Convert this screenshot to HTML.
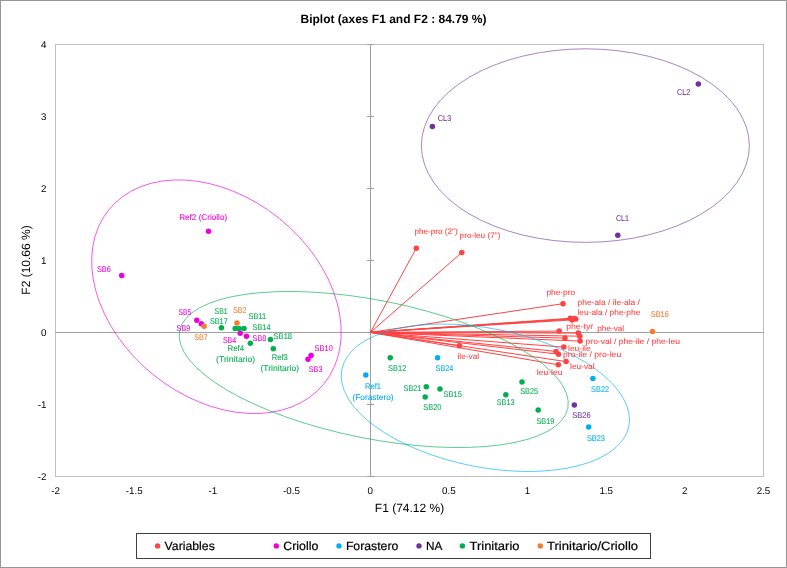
<!DOCTYPE html>
<html><head><meta charset="utf-8"><style>
html,body{margin:0;padding:0;background:#fff;}
svg{display:block;will-change:transform;}
text{font-family:"Liberation Sans",sans-serif;text-rendering:geometricPrecision;}
</style></head><body>
<svg width="787" height="568" viewBox="0 0 787 568">
<rect x="0.5" y="0.5" width="786" height="567" fill="#fff" stroke="#969696" stroke-width="1"/>

<text x="393.5" y="22.9" text-anchor="middle" font-size="12" font-weight="bold" fill="#000">Biplot (axes F1 and F2 : 84.79 %)</text>
<rect x="55.5" y="44.5" width="708" height="432" fill="none" stroke="#c0c0c0" stroke-width="1"/>
<line x1="55" y1="332.5" x2="764" y2="332.5" stroke="#a0a0a0" stroke-width="1"/>
<line x1="370.5" y1="44" x2="370.5" y2="477" stroke="#a0a0a0" stroke-width="1"/>
<line x1="367" y1="44.5" x2="374" y2="44.5" stroke="#a0a0a0" stroke-width="1"/>
<line x1="367" y1="116.5" x2="374" y2="116.5" stroke="#a0a0a0" stroke-width="1"/>
<line x1="367" y1="188.5" x2="374" y2="188.5" stroke="#a0a0a0" stroke-width="1"/>
<line x1="367" y1="260.5" x2="374" y2="260.5" stroke="#a0a0a0" stroke-width="1"/>
<line x1="367" y1="404.5" x2="374" y2="404.5" stroke="#a0a0a0" stroke-width="1"/>
<line x1="367" y1="476.5" x2="374" y2="476.5" stroke="#a0a0a0" stroke-width="1"/>
<text x="46.5" y="47.5" text-anchor="end" font-size="9.8" fill="#000">4</text>
<text x="46.5" y="119.5" text-anchor="end" font-size="9.8" fill="#000">3</text>
<text x="46.5" y="191.5" text-anchor="end" font-size="9.8" fill="#000">2</text>
<text x="46.5" y="263.5" text-anchor="end" font-size="9.8" fill="#000">1</text>
<text x="46.5" y="335.5" text-anchor="end" font-size="9.8" fill="#000">0</text>
<text x="46.5" y="407.5" text-anchor="end" font-size="9.8" fill="#000">-1</text>
<text x="46.5" y="479.5" text-anchor="end" font-size="9.8" fill="#000">-2</text>
<text x="55.5" y="494.2" text-anchor="middle" font-size="9.8" fill="#000">-2</text>
<text x="134.2" y="494.2" text-anchor="middle" font-size="9.8" fill="#000">-1.5</text>
<text x="212.8" y="494.2" text-anchor="middle" font-size="9.8" fill="#000">-1</text>
<text x="291.5" y="494.2" text-anchor="middle" font-size="9.8" fill="#000">-0.5</text>
<text x="370.2" y="494.2" text-anchor="middle" font-size="9.8" fill="#000">0</text>
<text x="448.8" y="494.2" text-anchor="middle" font-size="9.8" fill="#000">0.5</text>
<text x="527.5" y="494.2" text-anchor="middle" font-size="9.8" fill="#000">1</text>
<text x="606.2" y="494.2" text-anchor="middle" font-size="9.8" fill="#000">1.5</text>
<text x="684.8" y="494.2" text-anchor="middle" font-size="9.8" fill="#000">2</text>
<text x="763.5" y="494.2" text-anchor="middle" font-size="9.8" fill="#000">2.5</text>
<text x="409.5" y="511.8" text-anchor="middle" font-size="12" fill="#000">F1 (74.12 %)</text>
<text transform="translate(30.4,260) rotate(-90)" text-anchor="middle" font-size="12" fill="#000">F2 (10.66 %)</text>
<line x1="370.4" y1="332.4" x2="416.3" y2="248.2" stroke="#ff4343" stroke-width="1"/>
<line x1="370.4" y1="332.4" x2="461.8" y2="252.5" stroke="#ff4343" stroke-width="1"/>
<line x1="370.4" y1="332.4" x2="563" y2="303.7" stroke="#ff4343" stroke-width="1"/>
<line x1="370.4" y1="332.4" x2="570.3" y2="318.3" stroke="#ff4343" stroke-width="1"/>
<line x1="370.4" y1="332.4" x2="572.1" y2="319.9" stroke="#ff4343" stroke-width="1"/>
<line x1="370.4" y1="332.4" x2="575.8" y2="318.9" stroke="#ff4343" stroke-width="1"/>
<line x1="370.4" y1="332.4" x2="574" y2="318.5" stroke="#ff4343" stroke-width="1"/>
<line x1="370.4" y1="332.4" x2="559.2" y2="331.1" stroke="#ff4343" stroke-width="1"/>
<line x1="370.4" y1="332.4" x2="578.3" y2="333.1" stroke="#ff4343" stroke-width="1"/>
<line x1="370.4" y1="332.4" x2="579.8" y2="336.2" stroke="#ff4343" stroke-width="1"/>
<line x1="370.4" y1="332.4" x2="565" y2="338.1" stroke="#ff4343" stroke-width="1"/>
<line x1="370.4" y1="332.4" x2="580.1" y2="341.1" stroke="#ff4343" stroke-width="1"/>
<line x1="370.4" y1="332.4" x2="563.8" y2="347.1" stroke="#ff4343" stroke-width="1"/>
<line x1="370.4" y1="332.4" x2="556" y2="351.4" stroke="#ff4343" stroke-width="1"/>
<line x1="370.4" y1="332.4" x2="558.5" y2="354.2" stroke="#ff4343" stroke-width="1"/>
<line x1="370.4" y1="332.4" x2="566.1" y2="361.6" stroke="#ff4343" stroke-width="1"/>
<line x1="370.4" y1="332.4" x2="558.3" y2="364.8" stroke="#ff4343" stroke-width="1"/>
<line x1="370.4" y1="332.4" x2="459.4" y2="345.8" stroke="#ff4343" stroke-width="1"/>
<ellipse cx="585.37" cy="145.59" rx="164.0" ry="96.78" transform="rotate(0.0 585.37 145.59)" fill="none" stroke="#7030a0" stroke-width="0.8" opacity="0.75"/>
<ellipse cx="485.39" cy="397.77" rx="146.29" ry="69.37" transform="rotate(11.17 485.39 397.77)" fill="none" stroke="#00aff0" stroke-width="0.8" opacity="0.75"/>
<ellipse cx="373.72" cy="369.5" rx="197.93" ry="69.11" transform="rotate(11.27 373.72 369.5)" fill="none" stroke="#00b050" stroke-width="0.8" opacity="0.75"/>
<ellipse cx="216.44" cy="296.71" rx="138.36" ry="100.38" transform="rotate(38.9 216.44 296.71)" fill="none" stroke="#ee00dd" stroke-width="0.8" opacity="0.75"/>
<circle cx="416.3" cy="248.2" r="2.75" fill="#ff4343"/>
<circle cx="461.8" cy="252.5" r="2.75" fill="#ff4343"/>
<circle cx="563" cy="303.7" r="2.75" fill="#ff4343"/>
<circle cx="570.3" cy="318.3" r="2.75" fill="#ff4343"/>
<circle cx="572.1" cy="319.9" r="2.75" fill="#ff4343"/>
<circle cx="575.8" cy="318.9" r="2.75" fill="#ff4343"/>
<circle cx="574" cy="318.5" r="2.75" fill="#ff4343"/>
<circle cx="559.2" cy="331.1" r="2.75" fill="#ff4343"/>
<circle cx="578.3" cy="333.1" r="2.75" fill="#ff4343"/>
<circle cx="579.8" cy="336.2" r="2.75" fill="#ff4343"/>
<circle cx="565" cy="338.1" r="2.75" fill="#ff4343"/>
<circle cx="580.1" cy="341.1" r="2.75" fill="#ff4343"/>
<circle cx="563.8" cy="347.1" r="2.75" fill="#ff4343"/>
<circle cx="556" cy="351.4" r="2.75" fill="#ff4343"/>
<circle cx="558.5" cy="354.2" r="2.75" fill="#ff4343"/>
<circle cx="566.1" cy="361.6" r="2.75" fill="#ff4343"/>
<circle cx="558.3" cy="364.8" r="2.75" fill="#ff4343"/>
<circle cx="459.4" cy="345.8" r="2.75" fill="#ff4343"/>
<circle cx="208.5" cy="231.3" r="2.75" fill="#ee00dd"/>
<circle cx="121.7" cy="275.6" r="2.75" fill="#ee00dd"/>
<circle cx="196.8" cy="320.3" r="2.75" fill="#ee00dd"/>
<circle cx="201.3" cy="323.8" r="2.75" fill="#ee00dd"/>
<circle cx="240.2" cy="333.3" r="2.75" fill="#ee00dd"/>
<circle cx="246.5" cy="336.2" r="2.75" fill="#ee00dd"/>
<circle cx="311.1" cy="355.4" r="2.75" fill="#ee00dd"/>
<circle cx="308" cy="359.3" r="2.75" fill="#ee00dd"/>
<circle cx="204.1" cy="326.3" r="2.75" fill="#ed7d31"/>
<circle cx="237" cy="322.9" r="2.75" fill="#ed7d31"/>
<circle cx="652.5" cy="331.5" r="2.75" fill="#ed7d31"/>
<circle cx="221.4" cy="327.7" r="2.75" fill="#00b050"/>
<circle cx="235.2" cy="328.6" r="2.75" fill="#00b050"/>
<circle cx="239.2" cy="328.6" r="2.75" fill="#00b050"/>
<circle cx="244" cy="328.6" r="2.75" fill="#00b050"/>
<circle cx="250.3" cy="343.2" r="2.75" fill="#00b050"/>
<circle cx="270.4" cy="339.4" r="2.75" fill="#00b050"/>
<circle cx="273.3" cy="348.7" r="2.75" fill="#00b050"/>
<circle cx="390.2" cy="357.8" r="2.75" fill="#00b050"/>
<circle cx="426.3" cy="386.8" r="2.75" fill="#00b050"/>
<circle cx="440" cy="388.9" r="2.75" fill="#00b050"/>
<circle cx="425.2" cy="397.1" r="2.75" fill="#00b050"/>
<circle cx="522" cy="381.9" r="2.75" fill="#00b050"/>
<circle cx="505.8" cy="394.7" r="2.75" fill="#00b050"/>
<circle cx="538.2" cy="410.1" r="2.75" fill="#00b050"/>
<circle cx="365.8" cy="375" r="2.75" fill="#00aff0"/>
<circle cx="437.6" cy="357.8" r="2.75" fill="#00aff0"/>
<circle cx="592.9" cy="378.5" r="2.75" fill="#00aff0"/>
<circle cx="588.7" cy="427.1" r="2.75" fill="#00aff0"/>
<circle cx="617.8" cy="235.2" r="2.75" fill="#7030a0"/>
<circle cx="698.3" cy="84" r="2.75" fill="#7030a0"/>
<circle cx="432.4" cy="126.5" r="2.75" fill="#7030a0"/>
<circle cx="574.3" cy="405" r="2.75" fill="#7030a0"/>
<text x="96.9" y="271.79" font-size="8.4" fill="#ee00dd" stroke="#ee00dd" stroke-width="0.08" textLength="13.9" lengthAdjust="spacingAndGlyphs">SB6</text>
<text x="178.4" y="315.14" font-size="8.4" fill="#ee00dd" stroke="#ee00dd" stroke-width="0.08" textLength="12.8" lengthAdjust="spacingAndGlyphs">SB5</text>
<text x="176.6" y="330.54" font-size="8.4" fill="#ee00dd" stroke="#ee00dd" stroke-width="0.08" textLength="13.7" lengthAdjust="spacingAndGlyphs">SB9</text>
<text x="222.9" y="343.34" font-size="8.4" fill="#ee00dd" stroke="#ee00dd" stroke-width="0.08" textLength="13.4" lengthAdjust="spacingAndGlyphs">SB4</text>
<text x="252.6" y="340.59" font-size="8.4" fill="#ee00dd" stroke="#ee00dd" stroke-width="0.08" textLength="13.7" lengthAdjust="spacingAndGlyphs">SB8</text>
<text x="314.6" y="350.79" font-size="8.4" fill="#ee00dd" stroke="#ee00dd" stroke-width="0.08" textLength="18.2" lengthAdjust="spacingAndGlyphs">SB10</text>
<text x="308.8" y="372.29" font-size="8.4" fill="#ee00dd" stroke="#ee00dd" stroke-width="0.08" textLength="13.6" lengthAdjust="spacingAndGlyphs">SB3</text>
<text x="194.3" y="340.19" font-size="8.4" fill="#ed7d31" stroke="#ed7d31" stroke-width="0.08" textLength="13.4" lengthAdjust="spacingAndGlyphs">SB7</text>
<text x="233.1" y="312.74" font-size="8.4" fill="#ed7d31" stroke="#ed7d31" stroke-width="0.08" textLength="13.4" lengthAdjust="spacingAndGlyphs">SB2</text>
<text x="650.7" y="316.84" font-size="8.4" fill="#ed7d31" stroke="#ed7d31" stroke-width="0.08" textLength="18.2" lengthAdjust="spacingAndGlyphs">SB16</text>
<text x="214.6" y="313.89" font-size="8.4" fill="#00b050" stroke="#00b050" stroke-width="0.08" textLength="13.1" lengthAdjust="spacingAndGlyphs">SB1</text>
<text x="209.9" y="323.89" font-size="8.4" fill="#00b050" stroke="#00b050" stroke-width="0.08" textLength="17.8" lengthAdjust="spacingAndGlyphs">SB17</text>
<text x="248.5" y="318.94" font-size="8.4" fill="#00b050" stroke="#00b050" stroke-width="0.08" textLength="17.8" lengthAdjust="spacingAndGlyphs">SB11</text>
<text x="252.6" y="329.74" font-size="8.4" fill="#00b050" stroke="#00b050" stroke-width="0.08" textLength="17.9" lengthAdjust="spacingAndGlyphs">SB14</text>
<text x="273.5" y="339.29" font-size="8.4" fill="#00b050" stroke="#00b050" stroke-width="0.08" textLength="18.6" lengthAdjust="spacingAndGlyphs">SB18</text>
<text x="227.5" y="350.79" font-size="8.4" fill="#00b050" stroke="#00b050" stroke-width="0.08" textLength="16.6" lengthAdjust="spacingAndGlyphs">Ref4</text>
<text x="216.1" y="362.14" font-size="8.4" fill="#00b050" stroke="#00b050" stroke-width="0.08" textLength="39.1" lengthAdjust="spacingAndGlyphs">(Trinitario)</text>
<text x="271.7" y="359.79" font-size="8.4" fill="#00b050" stroke="#00b050" stroke-width="0.08" textLength="16.2" lengthAdjust="spacingAndGlyphs">Ref3</text>
<text x="260.5" y="370.64" font-size="8.4" fill="#00b050" stroke="#00b050" stroke-width="0.08" textLength="38.6" lengthAdjust="spacingAndGlyphs">(Trinitario)</text>
<text x="388.1" y="370.74" font-size="8.4" fill="#00b050" stroke="#00b050" stroke-width="0.08" textLength="18.2" lengthAdjust="spacingAndGlyphs">SB12</text>
<text x="403.5" y="390.79" font-size="8.4" fill="#00b050" stroke="#00b050" stroke-width="0.08" textLength="17.9" lengthAdjust="spacingAndGlyphs">SB21</text>
<text x="443.6" y="396.54" font-size="8.4" fill="#00b050" stroke="#00b050" stroke-width="0.08" textLength="18.2" lengthAdjust="spacingAndGlyphs">SB15</text>
<text x="423.3" y="410.39" font-size="8.4" fill="#00b050" stroke="#00b050" stroke-width="0.08" textLength="18.2" lengthAdjust="spacingAndGlyphs">SB20</text>
<text x="520.2" y="393.84" font-size="8.4" fill="#00b050" stroke="#00b050" stroke-width="0.08" textLength="17.9" lengthAdjust="spacingAndGlyphs">SB25</text>
<text x="496.8" y="405.04" font-size="8.4" fill="#00b050" stroke="#00b050" stroke-width="0.08" textLength="17.7" lengthAdjust="spacingAndGlyphs">SB13</text>
<text x="536.4" y="423.59" font-size="8.4" fill="#00b050" stroke="#00b050" stroke-width="0.08" textLength="18.1" lengthAdjust="spacingAndGlyphs">SB19</text>
<text x="364.9" y="388.89" font-size="8.4" fill="#00aff0" stroke="#00aff0" stroke-width="0.08" textLength="16.1" lengthAdjust="spacingAndGlyphs">Ref1</text>
<text x="352.5" y="399.69" font-size="8.4" fill="#00aff0" stroke="#00aff0" stroke-width="0.08" textLength="41.1" lengthAdjust="spacingAndGlyphs">(Forastero)</text>
<text x="435.6" y="370.74" font-size="8.4" fill="#00aff0" stroke="#00aff0" stroke-width="0.08" textLength="17.8" lengthAdjust="spacingAndGlyphs">SB24</text>
<text x="591.1" y="391.64" font-size="8.4" fill="#00aff0" stroke="#00aff0" stroke-width="0.08" textLength="18.1" lengthAdjust="spacingAndGlyphs">SB22</text>
<text x="586.9" y="440.54" font-size="8.4" fill="#00aff0" stroke="#00aff0" stroke-width="0.08" textLength="18.1" lengthAdjust="spacingAndGlyphs">SB23</text>
<text x="616.0" y="220.99" font-size="8.4" fill="#7030a0" stroke="#7030a0" stroke-width="0.08" textLength="12.9" lengthAdjust="spacingAndGlyphs">CL1</text>
<text x="677.0" y="94.89" font-size="8.4" fill="#7030a0" stroke="#7030a0" stroke-width="0.08" textLength="13.2" lengthAdjust="spacingAndGlyphs">CL2</text>
<text x="437.8" y="120.99" font-size="8.4" fill="#7030a0" stroke="#7030a0" stroke-width="0.08" textLength="13.5" lengthAdjust="spacingAndGlyphs">CL3</text>
<text x="572.2" y="418.34" font-size="8.4" fill="#7030a0" stroke="#7030a0" stroke-width="0.08" textLength="18.5" lengthAdjust="spacingAndGlyphs">SB26</text>
<text x="179.2" y="220.00" font-size="8.4" fill="#ee00dd" stroke="#ee00dd" stroke-width="0.08" textLength="48.0" lengthAdjust="spacingAndGlyphs">Ref2 (Criollo)</text>
<text x="414.5" y="233.90" font-size="8.0" fill="#ff4343" stroke="#ff4343" stroke-width="0.08" textLength="43.2" lengthAdjust="spacingAndGlyphs">phe-pro (2&quot;)</text>
<text x="459.6" y="237.80" font-size="8.0" fill="#ff4343" stroke="#ff4343" stroke-width="0.08" textLength="40.8" lengthAdjust="spacingAndGlyphs">pro-leu (7&quot;)</text>
<text x="546.4" y="295.00" font-size="8.0" fill="#ff4343" stroke="#ff4343" stroke-width="0.08" textLength="28.8" lengthAdjust="spacingAndGlyphs">phe-pro</text>
<text x="577.5" y="304.70" font-size="8.0" fill="#ff4343" stroke="#ff4343" stroke-width="0.08" textLength="62.4" lengthAdjust="spacingAndGlyphs">phe-ala / ile-ala /</text>
<text x="577.5" y="315.40" font-size="8.0" fill="#ff4343" stroke="#ff4343" stroke-width="0.08" textLength="62.8" lengthAdjust="spacingAndGlyphs">leu-ala / phe-phe</text>
<text x="566.3" y="328.60" font-size="8.0" fill="#ff4343" stroke="#ff4343" stroke-width="0.08" textLength="26.8" lengthAdjust="spacingAndGlyphs">phe-tyr</text>
<text x="597.3" y="331.10" font-size="8.0" fill="#ff4343" stroke="#ff4343" stroke-width="0.08" textLength="26.8" lengthAdjust="spacingAndGlyphs">phe-val</text>
<text x="585.6" y="343.80" font-size="8.0" fill="#ff4343" stroke="#ff4343" stroke-width="0.08" textLength="94.3" lengthAdjust="spacingAndGlyphs">pro-val / phe-ile / phe-leu</text>
<text x="568.0" y="350.90" font-size="8.0" fill="#ff4343" stroke="#ff4343" stroke-width="0.08" textLength="22.7" lengthAdjust="spacingAndGlyphs">leu-ile</text>
<text x="563.0" y="356.70" font-size="8.0" fill="#ff4343" stroke="#ff4343" stroke-width="0.08" textLength="58.2" lengthAdjust="spacingAndGlyphs">pro-ile / pro-leu</text>
<text x="570.1" y="369.00" font-size="8.0" fill="#ff4343" stroke="#ff4343" stroke-width="0.08" textLength="24.5" lengthAdjust="spacingAndGlyphs">leu-val</text>
<text x="536.8" y="375.00" font-size="8.0" fill="#ff4343" stroke="#ff4343" stroke-width="0.08" textLength="25.7" lengthAdjust="spacingAndGlyphs">leu-leu</text>
<text x="457.5" y="358.90" font-size="8.0" fill="#ff4343" stroke="#ff4343" stroke-width="0.08" textLength="21.6" lengthAdjust="spacingAndGlyphs">ile-val</text>
<rect x="136.5" y="533.5" width="514" height="25" fill="#fff" stroke="#404040" stroke-width="1"/>
<circle cx="157.6" cy="545.9" r="2.7" fill="#ff4343"/>
<text x="164.6" y="549.9" font-size="12" fill="#000" stroke="#000" stroke-width="0.2" textLength="50.2" lengthAdjust="spacingAndGlyphs">Variables</text>
<circle cx="276.3" cy="545.9" r="2.7" fill="#ee00dd"/>
<text x="283.3" y="549.9" font-size="12" fill="#000" stroke="#000" stroke-width="0.2" textLength="35.0" lengthAdjust="spacingAndGlyphs">Criollo</text>
<circle cx="339.0" cy="545.9" r="2.7" fill="#00aff0"/>
<text x="345.9" y="549.9" font-size="12" fill="#000" stroke="#000" stroke-width="0.2" textLength="52.4" lengthAdjust="spacingAndGlyphs">Forastero</text>
<circle cx="419.0" cy="545.9" r="2.7" fill="#7030a0"/>
<text x="426.0" y="549.9" font-size="12" fill="#000" stroke="#000" stroke-width="0.2" textLength="16.3" lengthAdjust="spacingAndGlyphs">NA</text>
<circle cx="462.4" cy="545.9" r="2.7" fill="#00b050"/>
<text x="469.5" y="549.9" font-size="12" fill="#000" stroke="#000" stroke-width="0.2" textLength="50.0" lengthAdjust="spacingAndGlyphs">Trinitario</text>
<circle cx="540.3" cy="545.9" r="2.7" fill="#ed7d31"/>
<text x="547.0" y="549.9" font-size="12" fill="#000" stroke="#000" stroke-width="0.2" textLength="91.1" lengthAdjust="spacingAndGlyphs">Trinitario/Criollo</text>
</svg></body></html>
